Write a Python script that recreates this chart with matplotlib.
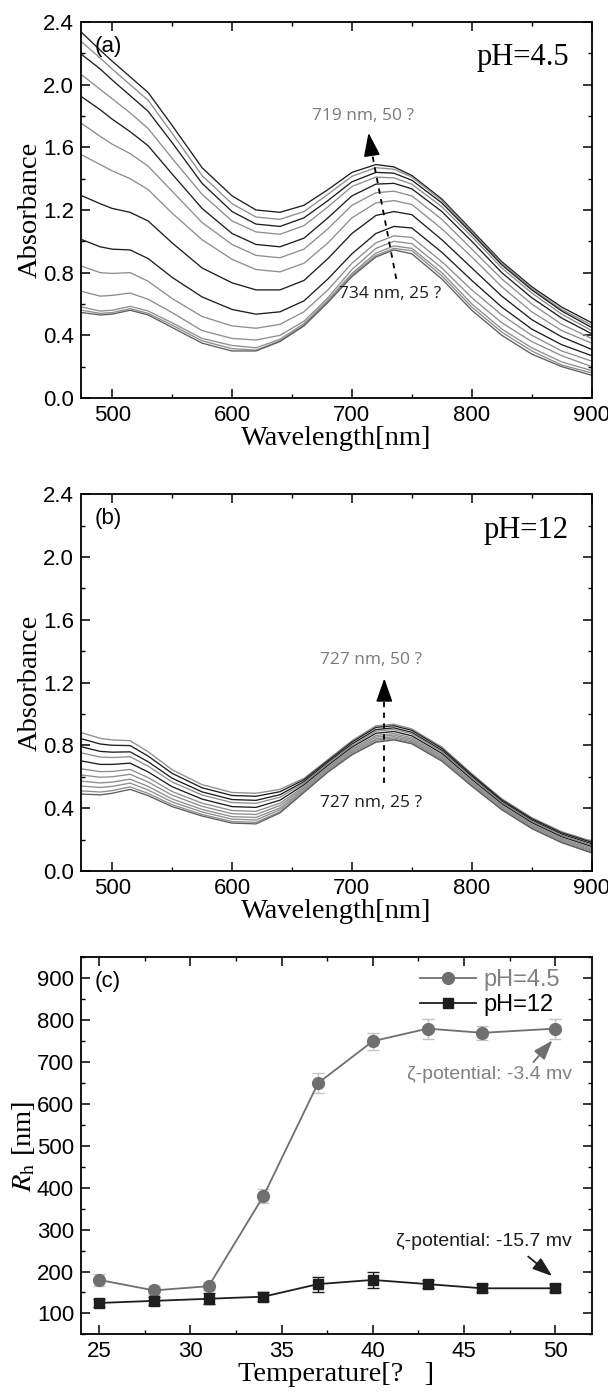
import matplotlib
matplotlib.use('Agg')
import matplotlib.pyplot as plt
from matplotlib.ticker import MultipleLocator, FormatStrFormatter

plt.rcParams['font.family'] = ['Liberation Sans', 'DejaVu Sans']
plt.rcParams['mathtext.fontset'] = 'stix'

# ---- data ----
wl = [475, 490, 500, 515, 530, 550, 575, 600, 620, 640, 660, 680, 700, 720, 735, 750, 775, 800, 825, 850, 875, 900]

# pH 4.5 spectra, top (50 C) to bottom (25 C)
abs_45 = [
    [2.33, 2.22, 2.15, 2.05, 1.95, 1.74, 1.47, 1.29, 1.20, 1.185, 1.23, 1.33, 1.44, 1.49, 1.475, 1.42, 1.27, 1.07, 0.87, 0.71, 0.58, 0.48],
    [2.27, 2.17, 2.10, 2.00, 1.90, 1.69, 1.42, 1.24, 1.155, 1.14, 1.19, 1.30, 1.415, 1.47, 1.46, 1.41, 1.26, 1.06, 0.86, 0.70, 0.565, 0.465],
    [2.19, 2.10, 2.03, 1.93, 1.83, 1.63, 1.37, 1.19, 1.11, 1.095, 1.15, 1.26, 1.38, 1.44, 1.435, 1.39, 1.245, 1.05, 0.85, 0.69, 0.555, 0.45],
    [2.06, 1.97, 1.91, 1.82, 1.72, 1.53, 1.30, 1.13, 1.06, 1.045, 1.10, 1.22, 1.35, 1.41, 1.405, 1.365, 1.22, 1.03, 0.83, 0.67, 0.535, 0.43],
    [1.92, 1.84, 1.78, 1.70, 1.61, 1.43, 1.21, 1.05, 0.98, 0.965, 1.02, 1.15, 1.29, 1.365, 1.37, 1.335, 1.19, 1.00, 0.80, 0.64, 0.51, 0.41],
    [1.75, 1.67, 1.62, 1.56, 1.48, 1.32, 1.12, 0.98, 0.91, 0.895, 0.95, 1.08, 1.23, 1.31, 1.32, 1.29, 1.14, 0.95, 0.76, 0.60, 0.47, 0.38],
    [1.55, 1.49, 1.45, 1.40, 1.33, 1.18, 1.01, 0.885, 0.82, 0.805, 0.86, 0.99, 1.15, 1.245, 1.26, 1.235, 1.08, 0.90, 0.71, 0.55, 0.43, 0.35],
    [1.29, 1.24, 1.21, 1.185, 1.13, 0.99, 0.83, 0.735, 0.69, 0.69, 0.75, 0.89, 1.05, 1.165, 1.19, 1.17, 1.01, 0.83, 0.65, 0.50, 0.39, 0.31],
    [1.01, 0.965, 0.95, 0.945, 0.89, 0.77, 0.645, 0.565, 0.535, 0.55, 0.62, 0.76, 0.92, 1.05, 1.095, 1.085, 0.93, 0.75, 0.58, 0.44, 0.34, 0.27],
    [0.84, 0.80, 0.795, 0.80, 0.745, 0.635, 0.52, 0.46, 0.445, 0.47, 0.55, 0.69, 0.86, 0.99, 1.035, 1.025, 0.87, 0.69, 0.53, 0.40, 0.30, 0.235],
    [0.68, 0.65, 0.655, 0.67, 0.63, 0.545, 0.43, 0.38, 0.37, 0.40, 0.49, 0.64, 0.82, 0.955, 1.00, 0.985, 0.83, 0.64, 0.48, 0.36, 0.27, 0.20],
    [0.58, 0.555, 0.56, 0.585, 0.555, 0.48, 0.38, 0.335, 0.32, 0.375, 0.475, 0.625, 0.795, 0.925, 0.97, 0.955, 0.80, 0.60, 0.44, 0.32, 0.23, 0.175],
    [0.56, 0.54, 0.545, 0.57, 0.54, 0.465, 0.365, 0.315, 0.305, 0.365, 0.465, 0.615, 0.785, 0.91, 0.955, 0.94, 0.78, 0.58, 0.42, 0.30, 0.21, 0.16],
    [0.545, 0.53, 0.535, 0.56, 0.53, 0.45, 0.35, 0.30, 0.30, 0.36, 0.46, 0.61, 0.775, 0.90, 0.945, 0.92, 0.76, 0.56, 0.40, 0.28, 0.20, 0.145],
]
col_45 = ['k', 'g', 'k', 'g', 'k', 'g', 'g', 'k', 'k', 'g', 'g', 'g', 'g', 'd']

# pH 12 spectra, top to bottom
abs_12 = [
    [0.88, 0.845, 0.835, 0.83, 0.76, 0.645, 0.55, 0.50, 0.495, 0.52, 0.59, 0.71, 0.83, 0.925, 0.935, 0.905, 0.79, 0.62, 0.46, 0.34, 0.25, 0.19],
    [0.841, 0.809, 0.801, 0.799, 0.732, 0.622, 0.530, 0.481, 0.476, 0.505, 0.581, 0.702, 0.821, 0.915, 0.925, 0.896, 0.781, 0.612, 0.453, 0.333, 0.243, 0.183],
    [0.79, 0.762, 0.757, 0.759, 0.696, 0.591, 0.504, 0.455, 0.45, 0.486, 0.569, 0.692, 0.809, 0.901, 0.912, 0.883, 0.769, 0.602, 0.444, 0.324, 0.234, 0.173],
    [0.751, 0.726, 0.723, 0.728, 0.668, 0.567, 0.484, 0.436, 0.431, 0.47, 0.56, 0.684, 0.80, 0.89, 0.902, 0.874, 0.76, 0.594, 0.437, 0.317, 0.227, 0.165],
    [0.70, 0.679, 0.679, 0.687, 0.631, 0.537, 0.458, 0.41, 0.405, 0.451, 0.549, 0.673, 0.789, 0.877, 0.889, 0.861, 0.749, 0.583, 0.428, 0.308, 0.218, 0.156],
    [0.65, 0.633, 0.634, 0.647, 0.595, 0.506, 0.432, 0.385, 0.38, 0.432, 0.537, 0.663, 0.777, 0.863, 0.876, 0.849, 0.737, 0.573, 0.419, 0.299, 0.209, 0.146],
    [0.611, 0.597, 0.600, 0.616, 0.567, 0.483, 0.412, 0.365, 0.36, 0.417, 0.528, 0.655, 0.768, 0.853, 0.866, 0.839, 0.728, 0.565, 0.412, 0.292, 0.202, 0.138],
    [0.572, 0.561, 0.566, 0.585, 0.539, 0.459, 0.392, 0.346, 0.341, 0.402, 0.519, 0.647, 0.759, 0.842, 0.856, 0.83, 0.719, 0.557, 0.405, 0.285, 0.195, 0.131],
    [0.541, 0.532, 0.539, 0.56, 0.516, 0.44, 0.376, 0.33, 0.325, 0.39, 0.512, 0.64, 0.752, 0.834, 0.848, 0.822, 0.712, 0.550, 0.399, 0.279, 0.189, 0.125],
    [0.51, 0.503, 0.512, 0.536, 0.494, 0.422, 0.36, 0.315, 0.31, 0.377, 0.504, 0.634, 0.744, 0.825, 0.84, 0.815, 0.705, 0.544, 0.394, 0.274, 0.184, 0.119],
    [0.49, 0.485, 0.495, 0.52, 0.48, 0.41, 0.35, 0.305, 0.30, 0.37, 0.50, 0.63, 0.74, 0.82, 0.835, 0.81, 0.70, 0.54, 0.39, 0.27, 0.18, 0.115],
]
col_12 = ['g', 'k', 'k', 'g', 'k', 'g', 'g', 'g', 'g', 'g', 'd']

temps = [25, 28, 31, 34, 37, 40, 43, 46, 50]
rh_45 = [180, 155, 165, 380, 650, 750, 780, 770, 780]
err_45 = [15, 10, 10, 16, 24, 20, 24, 16, 24]
rh_12 = [125, 130, 135, 140, 170, 180, 170, 160, 160]
err_12 = [10, 10, 13, 10, 18, 20, 10, 10, 10]

colors = {'k': '#1e1e1e', 'g': '#8e8e8e', 'd': '#5e5e5e'}
GRAY = '#6f6f6f'

fig = plt.figure(figsize=(6.08, 13.92), dpi=100)
ax_a = fig.add_axes([0.1332, 0.7141, 0.8400, 0.2701])
ax_b = fig.add_axes([0.1332, 0.3743, 0.8400, 0.2706])
ax_c = fig.add_axes([0.1332, 0.0414, 0.8400, 0.2708])


def style(ax):
    for s in ax.spines.values():
        s.set_linewidth(1.3)
    ax.tick_params(which='both', direction='in', top=True, right=True,
                   labelsize=16, pad=5)
    ax.tick_params(which='major', length=6.5, width=1.1)
    ax.tick_params(which='minor', length=3, width=1.0)


serif = {'family': 'Liberation Serif', 'size': 20.5}
note = {'family': 'Open Sans', 'size': 12.5}
head = '-|>,head_length=0.8,head_width=0.28'

for ax, spectra, cols, tag, ph in [(ax_a, abs_45, col_45, '(a)', 'pH=4.5'),
                                   (ax_b, abs_12, col_12, '(b)', 'pH=12')]:
    for row, c in zip(spectra, cols):
        ax.plot(wl, row, color=colors[c], lw=0.95)
    ax.set_xlim(474, 900)
    ax.set_ylim(0, 2.4)
    ax.xaxis.set_major_locator(MultipleLocator(100))
    ax.xaxis.set_minor_locator(MultipleLocator(50))
    ax.yaxis.set_major_locator(MultipleLocator(0.4))
    ax.yaxis.set_minor_locator(MultipleLocator(0.2))
    ax.yaxis.set_major_formatter(FormatStrFormatter('%.1f'))
    style(ax)
    ax.set_xlabel('Wavelength[nm]', fontdict=serif, labelpad=0)
    ax.set_ylabel('Absorbance', fontdict=serif, labelpad=0)
    ax.text(0.027, 0.935, tag, transform=ax.transAxes, fontsize=16, va='center')
    ax.text(0.955, 0.905, ph, transform=ax.transAxes, ha='right', va='center',
            family='Liberation Serif', fontsize=22)

# arrows (a)
ax_a.plot([737, 716.3], [0.76, 1.58], ls=(0, (3, 3)), color='k', lw=1.3)
ax_a.annotate('', xy=(713.5, 1.71), xytext=(716.6, 1.55),
              arrowprops=dict(arrowstyle=head, color='k', lw=1.2, mutation_scale=18))
ax_a.text(709.5, 1.80, '719 nm, 50 ?', color='#7a7a7a', ha='center', va='center', **note)
ax_a.text(731.5, 0.665, '734 nm, 25 ?', color='#1e1e1e', ha='center', va='center', **note)

# arrows (b)
ax_b.plot([727, 727], [0.56, 1.11], ls=(0, (3, 3)), color='k', lw=1.3)
ax_b.annotate('', xy=(727, 1.245), xytext=(727, 1.09),
              arrowprops=dict(arrowstyle=head, color='k', lw=1.2, mutation_scale=18))
ax_b.text(715.7, 1.345, '727 nm, 50 ?', color='#7a7a7a', ha='center', va='center', **note)
ax_b.text(715.7, 0.43, '727 nm, 25 ?', color='#1e1e1e', ha='center', va='center', **note)

# panel (c)
ax_c.errorbar(temps, rh_45, yerr=err_45, fmt='none', ecolor='#c4c4c4',
              elinewidth=1.0, capsize=4, capthick=1.0, zorder=2)
ax_c.errorbar(temps, rh_12, yerr=err_12, fmt='none', ecolor='#1e1e1e',
              elinewidth=1.0, capsize=4, capthick=1.0, zorder=2)
l45, = ax_c.plot(temps, rh_45, color=GRAY, lw=1.3, marker='o', ms=8.5,
                 mfc=GRAY, mec=GRAY, zorder=3, label='pH=4.5')
l12, = ax_c.plot(temps, rh_12, color='#1e1e1e', lw=1.3, marker='s', ms=7.5,
                 mfc='#1e1e1e', mec='#1e1e1e', zorder=3, label='pH=12')
ax_c.set_xlim(24, 52)
ax_c.set_ylim(50, 950)
ax_c.xaxis.set_major_locator(MultipleLocator(5))
ax_c.xaxis.set_minor_locator(MultipleLocator(2.5))
ax_c.yaxis.set_major_locator(MultipleLocator(100))
ax_c.yaxis.set_minor_locator(MultipleLocator(50))
style(ax_c)
ax_c.set_xlabel('Temperature[?   ]', fontdict=serif, labelpad=0)
ax_c.set_ylabel(r'$R_{\rm h}$ [nm]', fontdict=serif, labelpad=0)
ax_c.text(0.027, 0.935, '(c)', transform=ax_c.transAxes, fontsize=16, va='center')

leg = ax_c.legend(handles=[l45, l12], loc='upper right', bbox_to_anchor=(0.975, 1.02),
                  frameon=False, fontsize=17, handlelength=2.4,
                  handletextpad=0.3, labelspacing=0.15, borderpad=0.3)
leg.get_texts()[0].set_color('#808080')

ax_c.text(50.9, 670, '\u03b6-potential: -3.4 mv', color='#808080', ha='right',
          va='center', fontsize=14)
ax_c.annotate('', xy=(49.95, 757), xytext=(48.7, 695),
              arrowprops=dict(arrowstyle=head, color=GRAY, lw=1.3, mutation_scale=15))
ax_c.text(50.9, 272, '\u03b6-potential: -15.7 mv', color='#1e1e1e', ha='right',
          va='center', fontsize=14)
ax_c.annotate('', xy=(49.95, 185), xytext=(48.4, 240),
              arrowprops=dict(arrowstyle=head, color='#1e1e1e', lw=1.3, mutation_scale=15))

fig.savefig('out.png', dpi=100)
